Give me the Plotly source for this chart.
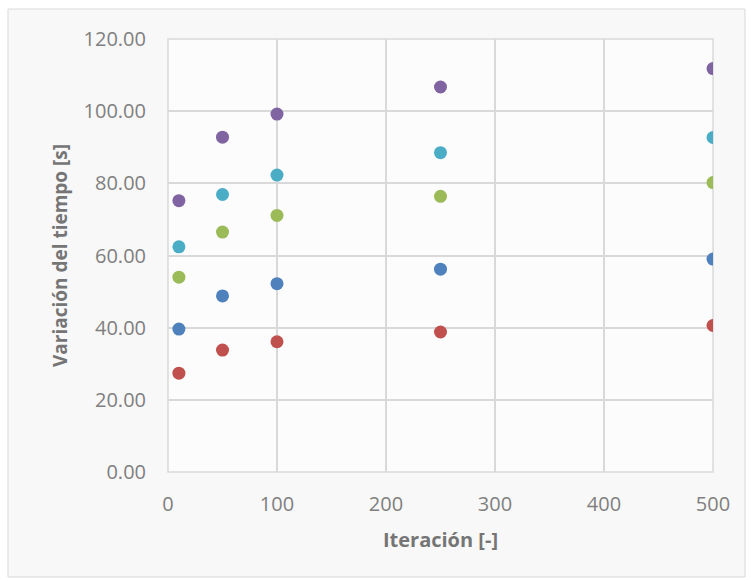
import plotly.graph_objects as go

x_vals = [10, 50, 100, 250, 500]
serie_morado = [75.2, 92.8, 99.2, 106.7, 111.8]
serie_cian = [62.4, 76.9, 82.3, 88.5, 92.7]
serie_verde = [54.0, 66.5, 71.1, 76.4, 80.2]
serie_azul = [39.6, 48.8, 52.2, 56.2, 59.0]
serie_rojo = [27.4, 33.8, 36.1, 38.8, 40.6]

series = [
    ("Serie 1", serie_azul, "#4F81BD"),
    ("Serie 2", serie_rojo, "#C0504D"),
    ("Serie 3", serie_verde, "#9BBB59"),
    ("Serie 4", serie_cian, "#4BACC6"),
    ("Serie 5", serie_morado, "#8064A2"),
]

fig = go.Figure()
for name, ys, col in series:
    fig.add_trace(go.Scatter(x=x_vals, y=ys, mode="markers", name=name,
                             marker=dict(size=13, color=col)))

W, H = 751, 580
L, R, T, B = 168, 38, 39, 108
pw, ph = W - L - R, H - T - B

def px(xp):
    return (xp - L) / pw

def py(yp):
    return (H - B - yp) / ph

fig.update_layout(
    width=W, height=H,
    margin=dict(l=L, r=R, t=T, b=B),
    paper_bgcolor="white",
    plot_bgcolor="rgba(0,0,0,0)",
    showlegend=False,
    font=dict(family="Open Sans, Liberation Sans, sans-serif", color="#7f7f7f", size=20),
    shapes=[
        dict(type="rect", xref="paper", yref="paper", layer="below",
             x0=px(8), x1=px(745), y0=py(577), y1=py(9),
             fillcolor="#f8f8f8", line=dict(color="#d9d9d9", width=1)),
        dict(type="rect", xref="paper", yref="paper", layer="below",
             x0=0, x1=1, y0=0, y1=1,
             fillcolor="#fcfcfc", line=dict(color="#d9d9d9", width=1.5)),
    ],
)
fig.update_xaxes(range=[0, 500], dtick=100, tick0=0, showgrid=True,
                 gridcolor="#d9d9d9", gridwidth=1.5, zeroline=False,
                 ticks="", ticklabelstandoff=18,
                 title=dict(text="<b>Iteración [-]</b>", font=dict(size=20, color="#757575"), standoff=16))
fig.update_yaxes(range=[0, 120], dtick=20, tick0=0, tickformat=".2f", showgrid=True,
                 gridcolor="#d9d9d9", gridwidth=1.5, zeroline=False,
                 ticks="", ticklabelstandoff=21,
                 title=dict(text="<b>Variación del tiempo [s]</b>", font=dict(size=19, color="#757575"), standoff=10))

fig.write_html("out.html", config={"displayModeBar": False})
with open("out.html", encoding="utf-8") as f:
    html = f.read()
html = html.replace("<head>", "<head><style>html,body{margin:0;padding:0;}</style>", 1)
with open("out.html", "w", encoding="utf-8") as f:
    f.write(html)
